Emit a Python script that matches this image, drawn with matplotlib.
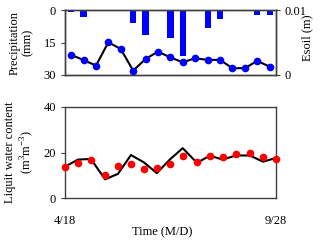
import matplotlib
matplotlib.use('Agg')
from matplotlib import pyplot as plt

# top panel: 17 periods (category axis)
periods = list(range(17))
precip = [0.9, 3.2, 0, 0, 0, 5.8, 11.5, 0, 13.0, 21.2, 0, 8.1, 4.2, 0, 0, 2.2, 2.2]
esoil = [0.0031, 0.0023, 0.00144, 0.00505, 0.0040, 0.00066, 0.00247, 0.0036, 0.0027,
         0.00196, 0.00258, 0.00232, 0.00232, 0.00104, 0.00104, 0.00216, 0.00128]

# bottom panel: days since 4/18
days = [0, 10, 20, 31, 41, 51, 61, 71, 81, 91, 102, 112, 122, 132, 143, 153, 163]
lwc_obs = [13.6, 15.5, 16.7, 10.0, 14.0, 14.8, 12.6, 13.1, 14.8, 18.5, 15.7, 18.6, 18.2,
           19.4, 19.7, 18.2, 17.0]
lwc_sim = [13.8, 16.9, 17.2, 8.3, 10.7, 18.9, 15.7, 11.0, 16.9, 21.9, 15.5, 18.6, 16.9,
           18.7, 18.7, 16.0, 17.6]
date_ticks = [0, 163]
date_labels = ['4/18', '9/28']

plt.rcParams['font.family'] = ['Liberation Serif', 'DejaVu Serif']
plt.rcParams['mathtext.fontset'] = 'custom'
plt.rcParams['mathtext.rm'] = 'Liberation Serif'
plt.rcParams['font.size'] = 9
spine_col = '#404040'

fig = plt.figure(figsize=(3.2, 2.44), dpi=100)
ax1 = fig.add_axes([0.203, 0.693, 0.659, 0.265])
ax2 = ax1.twinx()
ax3 = fig.add_axes([0.203, 0.187, 0.659, 0.376])

# precipitation bars hanging from the top
ax1.bar(periods, precip, width=0.5, color='#0000FF', zorder=2)
ax1.set_xlim(-0.5, 16.5)
ax1.set_ylim(30, 0)
ax1.set_yticks([0, 15, 30])
ax1.set_xticks([])
ax1.set_ylabel('Precipitation\n(mm)', labelpad=7, linespacing=1.1)

# soil evaporation
ax2.plot(periods, esoil, color='black', lw=1.5, zorder=3)
ax2.plot(periods, esoil, 'o', color='#0000FF', ms=4.5, zorder=4)
ax2.set_ylim(0, 0.01)
ax2.set_yticks([0, 0.01])
ax2.set_yticklabels(['0', '0.01'])
fig.text(307 / 320, 1 - 38 / 244, 'Esoil (m)', rotation=90, ha='center', va='center', fontsize=9)

# liquid water content
ax3.plot(days, lwc_sim, color='black', lw=1.5, zorder=3)
ax3.plot(days, lwc_obs, 'o', color='#FF0000', ms=4.5, zorder=4, clip_on=False)
ax3.set_xlim(0, 163)
ax3.set_ylim(0, 40)
ax3.set_yticks([0, 20, 40])
ax3.set_xticks(date_ticks)
ax3.set_xticklabels(date_labels)
ax3.set_ylabel('Liquit water content\n(m$^3$m$^{-3}$)', labelpad=5, linespacing=1.2)
fig.text(162 / 320, 1 - 232 / 244, 'Time (M/D)', ha='center', va='center', fontsize=9)

for a in (ax1, ax2, ax3):
    for s in a.spines.values():
        s.set_color(spine_col)
        s.set_linewidth(1.0)
    a.tick_params(colors=spine_col, labelcolor='black', length=3, width=0.8, direction='out')
ax3.tick_params(axis='x', length=0, pad=12)

fig.savefig('out.png', dpi=100)
